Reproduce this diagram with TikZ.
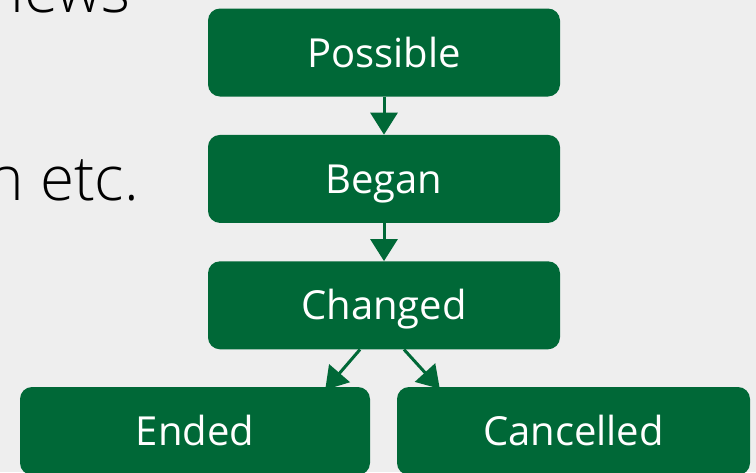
\documentclass[tikz,border=0pt]{standalone}
\usepackage{fontspec}
\setmainfont{Open Sans}
\newfontfamily\thinfont{Open Sans Light}
\usepackage{tikz}
\definecolor{stategreen}{HTML}{006837}
\definecolor{paper}{HTML}{EEEEEE}
\usetikzlibrary{arrows.meta, calc, positioning}

\begin{document}
\begin{tikzpicture}[x=1pt, y=-1pt]

  \tikzstyle{state} = [%
  align=center,
  fill=stategreen,
  font=\fontsize{40}{42}\selectfont,
  minimum height=88pt,
  minimum width=352pt,
  rectangle,
  rounded corners=12pt,
  text=white,
  text height=29pt,
  text depth=0pt,
  ];

  \tikzstyle{flow} = [%
  -{Triangle[length=22pt,width=27pt]},
  draw=stategreen,
  line width=3pt,
  ];

  \useasboundingbox (0,0) rectangle (756,472);
  \clip (0,0) rectangle (756,472);
  \fill[paper] (0,0) rectangle (756,472);

  % text of the slide behind
  \node[anchor=base west, font=\thinfont\fontsize{62}{64}\selectfont] (news) at (-16,12) {news};
  \node[anchor=base west, font=\thinfont\fontsize{62}{64}\selectfont] (etc) at (-16,200) {n etc.};

  \node[state] (possible) at (384,52.5) {Possible};
  \node[state, below=38pt of possible] (began) {Began};
  \node[state, below=38pt of began] (changed) {Changed};
  \node[state, minimum width=350pt] (ended) at (195,431) {Ended};
  \node[state, minimum width=353pt] (cancelled) at (573.5,431) {Cancelled};

  \draw[flow] (possible) -- (began);
  \draw[flow] (began) -- (changed);
  \draw[flow] ([xshift=-24pt]changed.south) -- ([xshift=-45pt,yshift=-3pt]ended.north east);
  \draw[flow] ([xshift=20pt]changed.south) -- ([xshift=43pt,yshift=-2pt]cancelled.north west);

\end{tikzpicture}
\end{document}
